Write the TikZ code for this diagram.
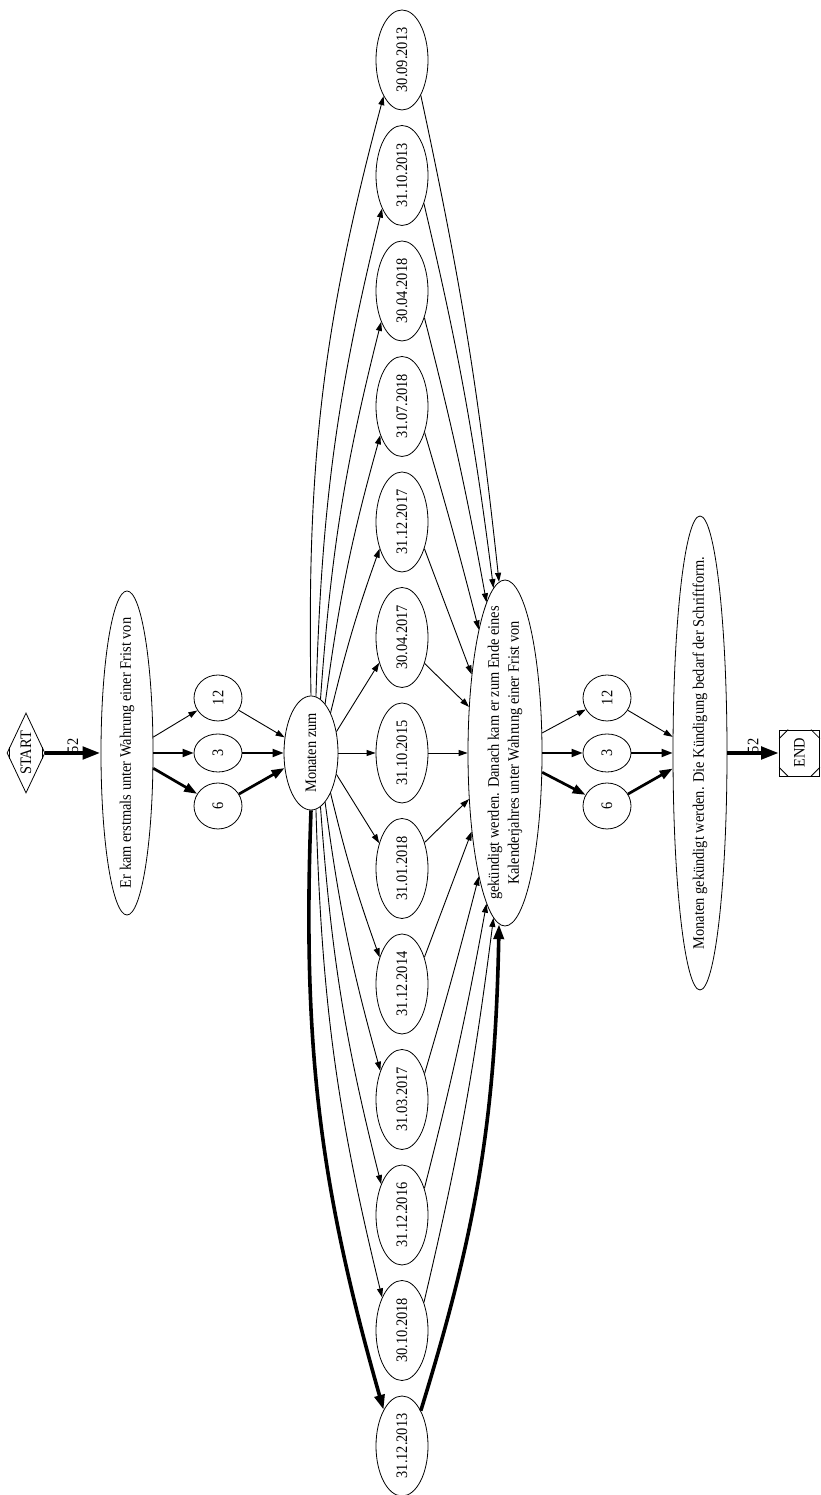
\documentclass[tikz,border=0pt]{standalone}
\usepackage{fontspec}
\setmainfont{Liberation Serif}
\usetikzlibrary{shapes.geometric,arrows.meta,calc}
\newcommand\cz[1]{\scalebox{0.9}[1]{#1}}
\begin{document}
\begin{tikzpicture}[x=1pt,y=1pt,
  ell/.style={ellipse, draw, inner sep=0pt, line width=0.8pt},
  datebox/.style={ell, minimum width=52pt, minimum height=100pt},
  txt/.style={rotate=90, inner sep=0pt, font=\fontsize{16}{20}\selectfont},
  e1/.style={line width=0.9pt, -{Triangle[length=9pt,width=6pt]}},
  e2/.style={line width=1.8pt, -{Triangle[length=11pt,width=8pt]}},
  e3/.style={line width=2.7pt, -{Triangle[length=13pt,width=9pt]}},
  e4/.style={line width=3.6pt, -{Triangle[length=15pt,width=10pt]}},
  e5/.style={line width=4.5pt, -{Triangle[length=18pt,width=12pt]}},
  ]
\useasboundingbox (0,0) rectangle (821,1495);
% start
\node[diamond, draw, line width=0.8pt, inner sep=0pt, minimum width=38pt, minimum height=80pt] (S) at (26,742) {};
\node[txt] (St) at (S) {\cz{START}};
\draw[line width=0.8pt] ($(S.west)!0.14!(S.north)$) -- ($(S.west)!0.14!(S.south)$);
\draw[line width=0.8pt] ($(S.east)!0.14!(S.north)$) -- ($(S.east)!0.14!(S.south)$);
% first column
\node[ell, minimum width=52pt, minimum height=324pt] (A) at (127,742) {};
\node[txt] (At) at (A) {\cz{Er kam erstmals unter Wahrung einer Frist von}};
\node[ell, minimum width=48pt, minimum height=46pt] (a12) at (218,797) {};
\node[txt] at (a12) {\cz{12}};
\node[ell, minimum width=48pt, minimum height=38pt] (a3) at (218,742) {};
\node[txt] at (a3) {\cz{3}};
\node[ell, minimum width=48pt, minimum height=46pt] (a6) at (218,689) {};
\node[txt] at (a6) {\cz{6}};
\node[ell, minimum width=54pt, minimum height=114pt] (M) at (311,742) {};
\node[txt] (Mt) at (M) {\cz{Monaten zum}};
% dates
\foreach \t [count=\i] in {30.09.2013,31.10.2013,30.04.2018,31.07.2018,31.12.2017,30.04.2017,31.10.2015,31.01.2018,31.12.2014,31.03.2017,31.12.2016,30.10.2018,31.12.2013}{
  \node[datebox] (d\i) at (402,{742+115.5*(7-\i)}) {};
  \node[txt] (dt\i) at (d\i) {\cz{\t}};
}
\node[ell, minimum width=74pt, minimum height=346pt] (B) at (505,742) {};
\node[txt, align=center] (Bt) at (B) {\cz{gekündigt werden. Danach kam er zum Ende eines}\\\cz{Kalenderjahres unter Wahrung einer Frist von}};
\node[ell, minimum width=48pt, minimum height=46pt] (b12) at (607,797) {};
\node[txt] at (b12) {\cz{12}};
\node[ell, minimum width=48pt, minimum height=38pt] (b3) at (607,742) {};
\node[txt] at (b3) {\cz{3}};
\node[ell, minimum width=48pt, minimum height=46pt] (b6) at (607,689) {};
\node[txt] at (b6) {\cz{6}};
\node[ell, minimum width=54pt, minimum height=474pt] (F) at (700,742) {};
\node[txt] (Ft) at (F) {\cz{Monaten gekündigt werden. Die Kündigung bedarf der Schriftform.}};
% end
\node[rectangle, draw, line width=0.8pt, minimum width=40pt, minimum height=46pt, inner sep=0pt] (E) at (799.5,742) {};
\node[txt] (Et) at (E) {\cz{END}};
\draw[line width=0.8pt] ($(E.north west)+(0,-9)$) -- ($(E.north west)+(9,0)$);
\draw[line width=0.8pt] ($(E.north east)+(0,-9)$) -- ($(E.north east)+(-9,0)$);
\draw[line width=0.8pt] ($(E.south west)+(0,9)$) -- ($(E.south west)+(9,0)$);
\draw[line width=0.8pt] ($(E.south east)+(0,9)$) -- ($(E.south east)+(-9,0)$);
% edges
\draw[e5] (S) -- (A);
\node[txt] (l1) at ($(S.east)!0.5!(A.west)+(0,7)$) {\cz{52}};
\draw[e1] (A) -- (a12);
\draw[e2] (A) -- (a3);
\draw[e3] (A) -- (a6);
\draw[e1] (a12) -- (M);
\draw[e2] (a3) -- (M);
\draw[e3] (a6) -- (M);
\foreach \i/\s/\e/\b in {1/90/243/8, 2/85/239/6, 3/80/236/5, 4/74/233/4, 5/64/230/3, 6/40/228/0}
  \draw[e1] (M.\s) to[bend left=\b] (d\i.\e);
\draw[e1] (M) -- (d7);
\foreach \i/\s/\e/\b in {8/320/132/0, 9/296/130/3, 10/286/127/4, 11/280/124/5, 12/275/121/6}
  \draw[e1] (M.\s) to[bend right=\b] (d\i.\e);
\draw[e4] (M.270) to[bend right=9] (d13.117);
\foreach \i/\s/\e/\b in {1/298/92/3, 2/308/94/3, 3/310/97/2, 4/311/102/1, 5/310/113/0, 6/311/128/0}
  \draw[e1] (d\i.\s) to[bend left=\b] (B.\e);
\draw[e1] (d7) -- (B);
\foreach \i/\s/\e/\b in {8/49/232/0, 9/50/247/0, 10/49/258/1, 11/50/263/2, 12/52/266/3}
  \draw[e1] (d\i.\s) to[bend right=\b] (B.\e);
\draw[e4] (d13.62) to[bend right=8] (B.268);
\draw[e1] (B) -- (b12);
\draw[e2] (B) -- (b3);
\draw[e3] (B) -- (b6);
\draw[e1] (b12) -- (F);
\draw[e2] (b3) -- (F);
\draw[e3] (b6) -- (F);
\draw[e5] (F) -- (E);
\node[txt] (l2) at ($(F.east)!0.5!(E.west)+(0,7)$) {\cz{52}};
\end{tikzpicture}
\end{document}
